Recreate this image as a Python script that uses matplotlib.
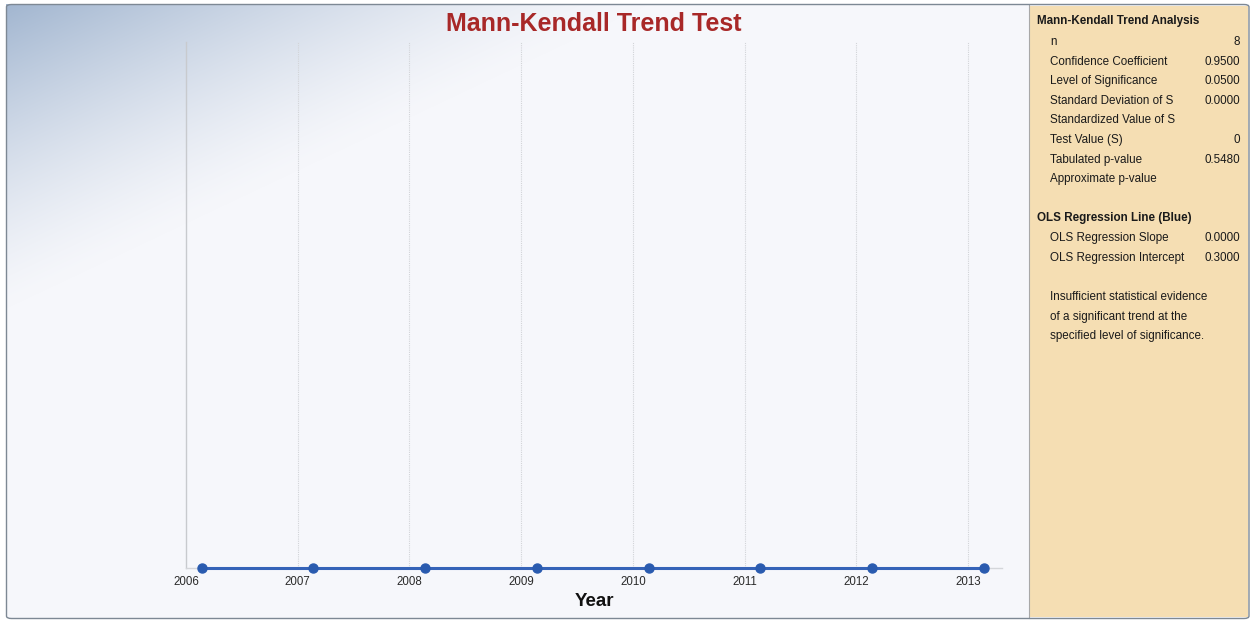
import numpy as np
import matplotlib
matplotlib.use("Agg")
import matplotlib.pyplot as plt
import matplotlib.dates as mdates
from matplotlib.patches import FancyBboxPatch
from datetime import date

# ---- data ----
obs_dates = ["2006-02-21", "2007-02-21", "2008-02-21", "2009-02-21",
             "2010-02-21", "2011-02-21", "2012-02-21", "2013-02-21"]
obs_values = [0.3, 0.3, 0.3, 0.3, 0.3, 0.3, 0.3, 0.3]
tick_years = [2006, 2007, 2008, 2009, 2010, 2011, 2012, 2013]

mk_rows = [
    ("n", "8"),
    ("Confidence Coefficient", "0.9500"),
    ("Level of Significance", "0.0500"),
    ("Standard Deviation of S", "0.0000"),
    ("Standardized Value of S", ""),
    ("Test Value (S)", "0"),
    ("Tabulated p-value", "0.5480"),
    ("Approximate p-value", ""),
]
ols_rows = [
    ("OLS Regression Slope", "0.0000"),
    ("OLS Regression Intercept", "0.3000"),
]
conclusion = ["Insufficient statistical evidence",
              "of a significant trend at the",
              "specified level of significance."]

W, H = 1251, 620
DPI = 100
plt.rcParams['font.family'] = ['Liberation Sans', 'DejaVu Sans']

fig = plt.figure(figsize=(W / DPI, H / DPI), dpi=DPI, facecolor="white")

def fx(px):
    return px / W

def fy(py):
    return 1 - py / H

# ---- background with diagonal gradient in top-left corner ----
bg_ax = fig.add_axes([0, 0, 1, 1], zorder=0)
bg_ax.set_axis_off()
yy, xx = np.mgrid[0:H, 0:W].astype(float)
t = (0.428 * (xx - 6) + 0.904 * (yy - 4)) / 275.0
t = np.clip(t, 0, 1)
w = (1 - t) ** 1.35
corner = np.array([162, 182, 208]) / 255.0
base = np.array([246, 247, 251]) / 255.0
img = base[None, None, :] * (1 - w[..., None]) + corner[None, None, :] * w[..., None]
# white outside chart frame, wheat on info panel
img[:4, :, :] = 1.0
img[:, :6, :] = 1.0
img[618:, :, :] = 1.0
img[:, 1249:, :] = 1.0
panel = np.array([245, 222, 179]) / 255.0
img[6:617, 1029:1248, :] = panel
bg_ax.imshow(img, extent=(0, W, H, 0), aspect="auto", interpolation="nearest")
bg_ax.set_xlim(0, W)
bg_ax.set_ylim(H, 0)

# outer rounded frame
frame = FancyBboxPatch((fx(6.5), fy(618.5)), fx(1249) - fx(6.5), fy(4.5) - fy(618.5),
                       boxstyle="round,pad=0,rounding_size=0.004",
                       transform=fig.transFigure, fill=False,
                       edgecolor="#7D8894", linewidth=1.0, zorder=5)
fig.patches.append(frame)
# panel separator
fig.add_artist(plt.Line2D([fx(1028.5), fx(1028.5)], [fy(5), fy(618)],
                          transform=fig.transFigure, color="#A8A8A8", lw=0.8, zorder=5))

# ---- main plot ----
ax = fig.add_axes([fx(186), fy(568), fx(1002) - fx(186), fy(42) - fy(568)], zorder=2)
ax.set_facecolor("none")
xd = [mdates.datestr2num(d) for d in obs_dates]
ax.plot(xd, obs_values, color="#3563B8", lw=2.2, marker="o", markersize=6.5,
        markerfacecolor="#2A5BAF", markeredgecolor="#2A5BAF", clip_on=False, zorder=3)

ax.set_xlim(mdates.date2num(date(2006, 1, 1)), mdates.date2num(date(2013, 4, 21)))
ax.set_ylim(0.3, 1.0)
ticks = [mdates.date2num(date(y, 1, 1)) for y in tick_years]
ax.set_xticks(ticks)
ax.set_xticklabels([str(y) for y in tick_years], fontsize=8.3, color="#2A2A2A")
ax.tick_params(axis="x", length=0, pad=6)
ax.set_yticks([])
for tk in ticks[1:]:
    ax.axvline(tk, color="#D2D4D8", lw=0.8, ls=(0, (1, 1)), zorder=1)
for s in ["top", "right"]:
    ax.spines[s].set_visible(False)
ax.spines["left"].set_color("#C8CACE")
ax.spines["bottom"].set_color("#D4D6DA")
ax.spines["left"].set_linewidth(1.0)
ax.spines["bottom"].set_linewidth(1.0)

fig.text(fx(594), fy(24), "Mann-Kendall Trend Test", ha="center", va="center",
         fontsize=18, fontweight="bold", color="#A82828", zorder=6)
fig.text(fx(594), fy(601), "Year", ha="center", va="center",
         fontsize=13.5, fontweight="bold", color="#111111", zorder=6)

# ---- info panel ----
fs = 8.4
tc = "#1A1A1A"
fig.text(fx(1037), fy(21), "Mann-Kendall Trend Analysis", ha="left", va="center",
         fontsize=fs, fontweight="bold", color=tc, zorder=6)
y0 = 42
step = 19.6
for i, (lab, val) in enumerate(mk_rows):
    yp = y0 + i * step
    fig.text(fx(1050), fy(yp), lab, ha="left", va="center", fontsize=fs, color=tc, zorder=6)
    if val:
        fig.text(fx(1240), fy(yp), val, ha="right", va="center", fontsize=fs, color=tc, zorder=6)

fig.text(fx(1037), fy(218), "OLS Regression Line (Blue)", ha="left", va="center",
         fontsize=fs, fontweight="bold", color=tc, zorder=6)
for i, (lab, val) in enumerate(ols_rows):
    yp = 238 + i * step
    fig.text(fx(1050), fy(yp), lab, ha="left", va="center", fontsize=fs, color=tc, zorder=6)
    fig.text(fx(1240), fy(yp), val, ha="right", va="center", fontsize=fs, color=tc, zorder=6)

for i, line in enumerate(conclusion):
    fig.text(fx(1050), fy(297 + i * step), line, ha="left", va="center",
             fontsize=fs, color=tc, zorder=6)

fig.savefig("out.png", dpi=DPI, facecolor="white")
